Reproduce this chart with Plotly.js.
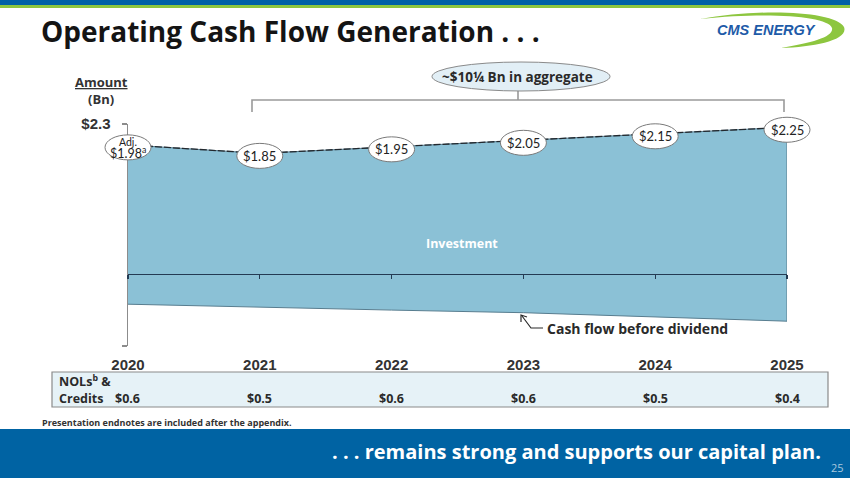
<!DOCTYPE html>
<html><head><meta charset="utf-8">
<script src="https://cdn.plot.ly/plotly-3.0.1.min.js"></script>
<style>html,body{margin:0;padding:0;background:#fff}#chart{width:850px;height:478px}</style>
</head><body><div id="chart"></div>
<script>
// ---- data ----
const years = [2020, 2021, 2022, 2023, 2024, 2025];
const cashFlow = [1.98, 1.85, 1.95, 2.05, 2.15, 2.25];
const cashFlowLabels = ['Adj.<br>$1.98<sup>a</sup>', '$1.85', '$1.95', '$2.05', '$2.15', '$2.25'];
const baseline = [-0.46, -0.50, -0.55, -0.59, -0.65, -0.72];
const nolCredits = ['$0.6', '$0.5', '$0.6', '$0.6', '$0.5', '$0.4'];
const yTickVals = [2.3, -1.1];
const yTickText = ['$2.3', ' '];
const yearTickText = ['2020', '2021', '2022', '2023', '2024', '2025'];

// ---- layout helpers ----
const W = 850, H = 478;
const PX = x => x / W, PY = y => 1 - y / H;
const L = 128, R = 787, T = 124, B = 346;
const xr = [2020, 2025], yr = [-1.1, 2.3];
const xDom = [PX(L), PX(R)], yDom = [PY(B), PY(T)];
const pxPerX = (R - L) / (xr[1] - xr[0]), pxPerY = (B - T) / (yr[1] - yr[0]);
const x2r = [xr[0] - L / pxPerX, xr[1] + (W - R) / pxPerX];
const y2r = [yr[0] - (H - B) / pxPerY, yr[1] + T / pxPerY];
const zeroPos = yDom[0] + (0 - yr[0]) / (yr[1] - yr[0]) * (yDom[1] - yDom[0]);

const GOTHIC = '"Open Sans", Lato, "DejaVu Sans", sans-serif';
const LABEL = 'Lato, "Open Sans", sans-serif';
const NARROW = '"Liberation Sans Narrow", "Arial Narrow", "Liberation Sans", Arial, sans-serif';
const AREA = '#8BC1D6';

const traces = [
  {
    x: years.concat(years.slice().reverse()),
    y: cashFlow.concat(baseline.slice().reverse()),
    type: 'scatter', mode: 'lines', fill: 'toself', fillcolor: AREA,
    line: {color: '#587d8f', width: 1}, hoverinfo: 'skip', showlegend: false,
    xaxis: 'x', yaxis: 'y'
  },
  {
    x: years, y: cashFlow, type: 'scatter', mode: 'lines',
    line: {color: '#22282e', width: 1.3, dash: '7px,2px'},
    hoverinfo: 'skip', showlegend: false, xaxis: 'x2', yaxis: 'y2', cliponaxis: false
  }
];

const shapes = [];
const ann = [];
function pRect(x0, y0, x1, y1, fill, line) {
  shapes.push({type: 'rect', xref: 'paper', yref: 'paper', x0: PX(x0), x1: PX(x1), y0: PY(y1), y1: PY(y0),
    fillcolor: fill, line: line || {width: 0}, layer: 'above'});
}
function pPath(pts, opts) {
  let d = '';
  pts.forEach(c => {
    d += c[0];
    for (let i = 1; i < c.length; i += 2) d += (i > 1 ? ' ' : '') + PX(c[i]) + ',' + PY(c[i + 1]) + ' ';
  });
  shapes.push(Object.assign({type: 'path', xref: 'paper', yref: 'paper', path: d.trim(), layer: 'above'}, opts));
}
function pText(x, y, text, font, extra) {
  ann.push(Object.assign({xref: 'paper', yref: 'paper', x: PX(x), y: PY(y), text: text, showarrow: false,
    xanchor: 'center', yanchor: 'middle', font: font}, extra || {}));
}

// top bands
pRect(0, 0, W, 5, '#0061A6');
pRect(0, 5, W, 8, '#8DC63F');
// footer
pRect(0, 429, W, H, '#0063A3');

// logo swoosh
pPath([['M', 700, 19], ['C', 760, 8, 836, 11, 844, 27], ['C', 849, 40, 815, 47, 781, 48],
       ['C', 812, 43, 834, 37, 832, 28], ['C', 828, 16, 768, 12, 700, 19], ['Z']],
      {fillcolor: '#8DC63F', line: {width: 0}});
pText(766, 30, '<b><i>CMS ENERGY</i></b>', {family: '"Liberation Sans", Arial, sans-serif', size: 14.5, color: '#1E5BA8'});

// title
pText(39, 31, '<b>Operating Cash Flow Generation . . .</b>', {family: GOTHIC, size: 28, color: '#141414'}, {xanchor: 'left'});

// aggregate bracket + ellipse
pPath([['M', 252, 112], ['L', 252, 100], ['L', 784, 100], ['L', 784, 112], ['M', 518, 100], ['L', 518, 90]],
      {line: {color: '#9a9a9a', width: 1.6}});
shapes.push({type: 'circle', xref: 'paper', yref: 'paper', x0: PX(432), x1: PX(610), y0: PY(91), y1: PY(62),
  fillcolor: '#E2EFF6', line: {color: '#8a8a8a', width: 1}, layer: 'above'});
pText(517, 77, '<b>~$10¼ Bn in aggregate</b>', {family: GOTHIC, size: 13.5, color: '#2a2a2a'});

// axis caption
pText(101, 82, '<b><u>Amount</u></b>', {family: GOTHIC, size: 13, color: '#333'});
pText(101, 99, '<b>(Bn)</b>', {family: GOTHIC, size: 13, color: '#333'});

// value ellipses + labels (data-driven positions)
years.forEach((yv, i) => {
  shapes.push({type: 'circle', xref: 'x2', yref: 'y2', xsizemode: 'pixel', ysizemode: 'pixel',
    xanchor: yv, yanchor: cashFlow[i], x0: -23, x1: 23, y0: -15, y1: 10,
    fillcolor: '#ffffff', line: {color: '#7a7a7a', width: 1}, layer: 'above'});
  const lines = cashFlowLabels[i].split('<br>');
  const n = lines.length;
  lines.forEach((ln, j) => {
    ann.push({xref: 'x2', yref: 'y2', x: yv, y: cashFlow[i],
      yshift: -2.5 + ((n - 1) / 2 - j) * 10.5, text: ln, showarrow: false,
      xanchor: 'center', yanchor: 'middle',
      font: {family: LABEL, size: n > 1 ? (j === 0 ? 10.5 : 12.5) : 13, color: '#222'}});
  });
});

// inner labels
pText(462, 243, '<b>Investment</b>', {family: GOTHIC, size: 12.5, color: '#ffffff'});
pText(545, 328, '<b>Cash flow before dividend</b>', {family: GOTHIC, size: 14, color: '#2a2a2a'}, {xanchor: 'left'});
pPath([['M', 543, 328], ['L', 531, 328], ['L', 522, 316]], {line: {color: '#2a2a2a', width: 1.2}});
pPath([['M', 521, 322], ['L', 521, 315], ['L', 527, 317]], {line: {color: '#2a2a2a', width: 1.2}});

// NOL table
pRect(52, 372, 828, 407, '#E6F2F7', {color: '#8a8a8a', width: 1.2});
pText(57, 381, '<b>NOLs<sup>b</sup> &</b>', {family: GOTHIC, size: 12.5, color: '#2a2a2a'}, {xanchor: 'left'});
pText(57, 398, '<b>Credits</b>', {family: GOTHIC, size: 12.5, color: '#2a2a2a'}, {xanchor: 'left'});
years.forEach((yv, i) => {
  ann.push({xref: 'x', yref: 'paper', x: yv, y: PY(398), text: '<b>' + nolCredits[i] + '</b>', showarrow: false,
    xanchor: 'center', yanchor: 'middle', font: {family: GOTHIC, size: 12.5, color: '#2a2a2a'}});
});

// endnote
pText(40, 422, '<b>Presentation endnotes are included after the appendix.</b>', {family: GOTHIC, size: 9, color: '#333'}, {xanchor: 'left'});
// footer text
pText(823, 451, '<b>. . . remains strong and supports our capital plan.</b>', {family: GOTHIC, size: 20, color: '#ffffff'}, {xanchor: 'right'});
pText(837, 467, '25', {family: GOTHIC, size: 11, color: '#A9C8DE'});

const layout = {
  width: W, height: H,
  margin: {l: 0, r: 0, t: 0, b: 0},
  paper_bgcolor: '#ffffff', plot_bgcolor: 'rgba(0,0,0,0)',
  showlegend: false,
  xaxis: {
    domain: xDom, range: xr, anchor: 'free', position: zeroPos,
    showline: true, linecolor: '#243b53', linewidth: 1.2,
    ticks: 'outside', ticklen: 4, tickwidth: 1.2, tickcolor: '#243b53',
    tickvals: years, ticktext: yearTickText, ticklabelstandoff: 73,
    tickfont: {family: NARROW, size: 15, color: '#333', weight: 'bold'},
    showgrid: false, zeroline: false, fixedrange: true
  },
  yaxis: {
    domain: yDom, range: yr, anchor: 'x',
    showline: true, linecolor: '#8c8c8c', linewidth: 1.5,
    ticks: 'outside', ticklen: 5, tickwidth: 1.5, tickcolor: '#8c8c8c',
    tickvals: yTickVals, ticktext: yTickText, ticklabelstandoff: 8,
    tickfont: {family: NARROW, size: 15, color: '#333', weight: 'bold'},
    showgrid: false, zeroline: false, fixedrange: true
  },
  xaxis2: {domain: [0, 1], range: x2r, anchor: 'y2', visible: false, fixedrange: true},
  yaxis2: {domain: [0, 1], range: y2r, anchor: 'x2', visible: false, fixedrange: true},
  shapes: shapes,
  annotations: ann
};

Plotly.newPlot('chart', traces, layout, {displayModeBar: false, staticPlot: true});
</script>
</body></html>
